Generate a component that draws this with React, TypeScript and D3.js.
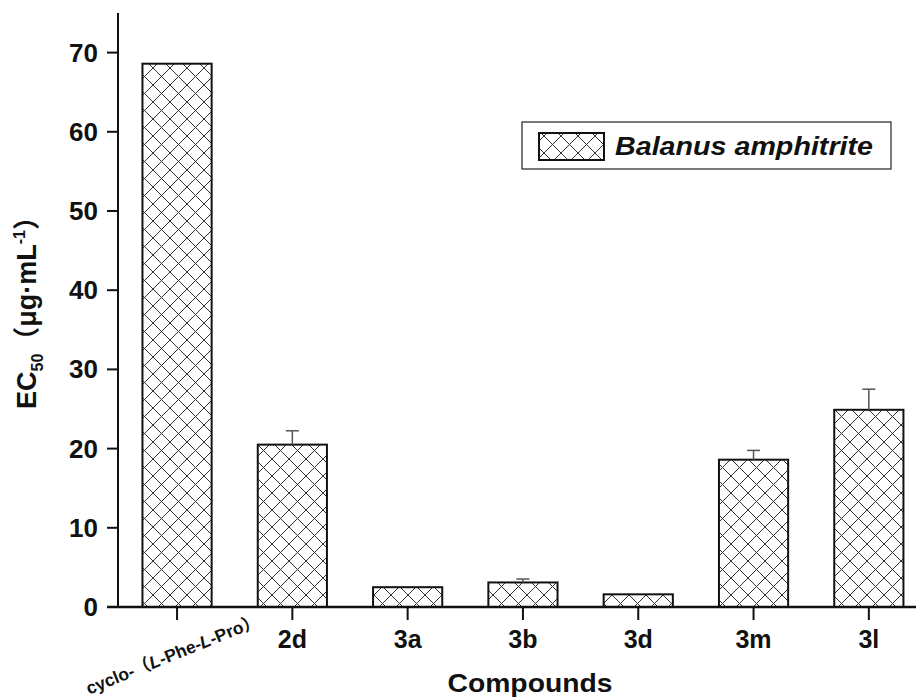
import React from "react";
import * as d3 from "d3";

const categories = ["cyclo", "2d", "3a", "3b", "3d", "3m", "3l"];
const values = [68.6, 20.5, 2.5, 3.1, 1.6, 18.6, 24.9];
const errors = [0, 1.75, 0, 0.43, 0, 1.17, 2.6];
const yTicks = [0, 10, 20, 30, 40, 50, 60, 70];
const tickLabels = ["", "2d", "3a", "3b", "3d", "3m", "3l"];
const legendLabel = "Balanus amphitrite";
const xTitle = "Compounds";

const W = 916;
const H = 697;
const FONT = "'Liberation Sans', Arial, 'Noto Sans CJK SC', sans-serif";

export default function App() {
  const axisX = 118;
  const axisY = 607;
  const y = d3.scaleLinear().domain([0, 75]).range([axisY, 13]);
  const x = d3
    .scaleBand<string>()
    .domain(categories)
    .range([119.4, 926.5])
    .paddingInner(0.4)
    .paddingOuter(0.2);
  const bw = x.bandwidth();
  const P = 17;

  return (
    <svg
      width={W}
      height={H}
      style={{ position: "absolute", left: 0, top: 0, background: "#fff" }}
      fontFamily={FONT}
    >
      <defs>
        <pattern id="hatch" patternUnits="userSpaceOnUse" width={P} height={P} x={0} y={0}>
          <rect width={P} height={P} fill="#fff" />
          <path d={`M0,0L${P},${P}M${P},0L0,${P}`} stroke="#333" strokeWidth={1} />
        </pattern>
      </defs>
      <rect width={W} height={H} fill="#fff" />

      {/* bars */}
      {categories.map((c, i) => (
        <rect
          key={c}
          x={x(c)}
          y={y(values[i])}
          width={bw}
          height={axisY - y(values[i])}
          fill="url(#hatch)"
          stroke="#111"
          strokeWidth={2}
        />
      ))}

      {/* error bars */}
      {categories.map((c, i) =>
        errors[i] > 0 ? (
          <g key={"e" + c} stroke="#555" strokeWidth={1.5}>
            <line
              x1={x(c)! + bw / 2}
              x2={x(c)! + bw / 2}
              y1={y(values[i])}
              y2={y(values[i] + errors[i])}
            />
            <line
              x1={x(c)! + bw / 2 - 6.5}
              x2={x(c)! + bw / 2 + 6.5}
              y1={y(values[i] + errors[i])}
              y2={y(values[i] + errors[i])}
            />
          </g>
        ) : null
      )}

      {/* y axis */}
      <line x1={axisX} x2={axisX} y1={13} y2={axisY + 1} stroke="#111" strokeWidth={2} />
      {yTicks.map((t) => (
        <g key={t}>
          <line x1={107} x2={axisX} y1={y(t)} y2={y(t)} stroke="#111" strokeWidth={2} />
          <text
            x={98}
            y={y(t) + 9}
            textAnchor="end"
            fontSize={26}
            fontWeight="bold"
            fill="#111"
          >
            {t}
          </text>
        </g>
      ))}

      {/* x axis */}
      <line x1={107} x2={W} y1={axisY} y2={axisY} stroke="#111" strokeWidth={2.5} />
      {categories.map((c, i) => (
        <g key={"t" + c}>
          <line
            x1={x(c)! + bw / 2}
            x2={x(c)! + bw / 2}
            y1={axisY}
            y2={620}
            stroke="#111"
            strokeWidth={2}
          />
          {tickLabels[i] ? (
            <text
              x={x(c)! + bw / 2}
              y={648}
              textAnchor="middle"
              fontSize={25}
              fontWeight="bold"
              fill="#111"
            >
              {tickLabels[i]}
            </text>
          ) : null}
        </g>
      ))}

      {/* rotated first label */}
      <text
        transform={`translate(${x(categories[0])! + bw / 2 - 2},660) rotate(-22)`}
        textAnchor="middle"
        fontSize={17.5}
        fontWeight="bold"
        fill="#111"
      >
        cyclo-（<tspan fontStyle="italic">L</tspan>-Phe-<tspan fontStyle="italic">L</tspan>-Pro）
      </text>

      {/* x title */}
      <text
        x={530}
        y={692}
        textAnchor="middle"
        fontSize={25}
        fontWeight="bold"
        fill="#111"
        textLength={165}
        lengthAdjust="spacingAndGlyphs"
      >
        {xTitle}
      </text>

      {/* y title */}
      <text
        transform="translate(36,306) rotate(-90)"
        textAnchor="middle"
        fontSize={27}
        fontWeight="bold"
        fill="#111"
      >
        EC
        <tspan fontSize={16} dy={7}>50</tspan>
        <tspan dy={-7}>（μg·mL</tspan>
        <tspan fontSize={16} dy={-11}>-1</tspan>
        <tspan dy={11}>）</tspan>
      </text>

      {/* legend */}
      <rect x={522} y={122} width={369} height={47} fill="#fff" stroke="#222" strokeWidth={1.2} />
      <rect x={539} y={133} width={65} height={27} fill="url(#hatch)" stroke="#111" strokeWidth={2} />
      <text
        x={615}
        y={155}
        fontSize={25}
        fontWeight="bold"
        fontStyle="italic"
        fill="#111"
        textLength={258}
        lengthAdjust="spacingAndGlyphs"
      >
        {legendLabel}
      </text>
    </svg>
  );
}
